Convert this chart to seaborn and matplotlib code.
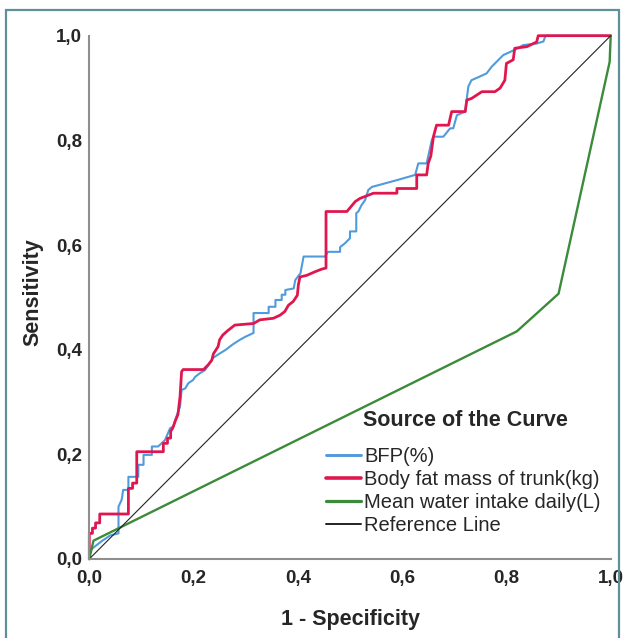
import matplotlib
matplotlib.use("Agg")
import matplotlib.pyplot as plt
from matplotlib.patches import Rectangle
import seaborn as sns
import pandas as pd

# ---- data ----
bfp_x = [0, 0, 0.012, 0.025, 0.040, 0.056, 0.056, 0.062, 0.065, 0.075, 0.075, 0.094, 0.094,
         0.104, 0.104, 0.120, 0.120, 0.132, 0.145, 0.155, 0.161, 0.168, 0.174, 0.177, 0.184,
         0.190, 0.199, 0.203, 0.212, 0.222, 0.230, 0.237, 0.249, 0.262, 0.275, 0.289, 0.300,
         0.315, 0.315, 0.344, 0.344, 0.357, 0.357, 0.369, 0.369, 0.376, 0.376, 0.392, 0.395,
         0.405, 0.411, 0.452, 0.458, 0.481, 0.481, 0.490, 0.500, 0.500, 0.512, 0.512, 0.516,
         0.522, 0.529, 0.535, 0.542, 0.590, 0.625, 0.631, 0.647, 0.657, 0.660, 0.679, 0.692,
         0.698, 0.705, 0.721, 0.724, 0.727, 0.733, 0.749, 0.762, 0.772, 0.788, 0.794, 0.816,
         0.832, 0.858, 0.871, 0.875, 1.0]
bfp_y = [0, 0.015, 0.025, 0.035, 0.045, 0.049, 0.100, 0.113, 0.132, 0.132, 0.157, 0.157, 0.180,
         0.180, 0.199, 0.199, 0.215, 0.215, 0.227, 0.250, 0.253, 0.275, 0.291, 0.323, 0.326,
         0.336, 0.342, 0.348, 0.355, 0.361, 0.373, 0.384, 0.392, 0.400, 0.410, 0.419, 0.425,
         0.432, 0.470, 0.470, 0.482, 0.482, 0.495, 0.495, 0.505, 0.505, 0.514, 0.517, 0.533,
         0.546, 0.578, 0.578, 0.587, 0.587, 0.596, 0.603, 0.613, 0.626, 0.626, 0.661, 0.664,
         0.676, 0.686, 0.705, 0.711, 0.724, 0.734, 0.756, 0.756, 0.801, 0.807, 0.807, 0.823,
         0.823, 0.848, 0.855, 0.880, 0.903, 0.915, 0.922, 0.928, 0.941, 0.957, 0.963, 0.973,
         0.982, 0.985, 0.989, 1.0, 1.0]

trunk_x = [0, 0, 0.006, 0.006, 0.012, 0.012, 0.020, 0.020, 0.075, 0.075, 0.083, 0.083, 0.091,
           0.091, 0.142, 0.142, 0.150, 0.150, 0.156, 0.156, 0.160, 0.165, 0.170, 0.174, 0.177,
           0.180, 0.219, 0.228, 0.235, 0.238, 0.247, 0.250, 0.256, 0.265, 0.279, 0.315, 0.327,
           0.353, 0.366, 0.375, 0.382, 0.391, 0.399, 0.401, 0.404, 0.417, 0.433, 0.446, 0.454,
           0.454, 0.494, 0.510, 0.519, 0.545, 0.590, 0.590, 0.628, 0.628, 0.647, 0.650, 0.655,
           0.660, 0.666, 0.689, 0.695, 0.721, 0.724, 0.733, 0.753, 0.778, 0.788, 0.797, 0.800,
           0.813, 0.816, 0.839, 0.858, 0.861, 1.0]
trunk_y = [0, 0.049, 0.049, 0.059, 0.059, 0.069, 0.069, 0.086, 0.086, 0.135, 0.135, 0.145, 0.145,
           0.205, 0.205, 0.221, 0.221, 0.231, 0.231, 0.244, 0.250, 0.264, 0.276, 0.310, 0.358,
           0.362, 0.362, 0.371, 0.380, 0.392, 0.406, 0.419, 0.428, 0.436, 0.447, 0.450, 0.457,
           0.460, 0.466, 0.473, 0.485, 0.492, 0.504, 0.524, 0.539, 0.542, 0.549, 0.554, 0.556,
           0.664, 0.664, 0.683, 0.689, 0.699, 0.699, 0.708, 0.708, 0.734, 0.734, 0.756, 0.770,
           0.807, 0.829, 0.829, 0.855, 0.855, 0.877, 0.880, 0.893, 0.893, 0.900, 0.915, 0.947,
           0.954, 0.976, 0.979, 0.988, 1.0, 1.0]

water_x = [0, 0.008, 0.82, 0.90, 0.998, 1.0]
water_y = [0, 0.035, 0.435, 0.507, 0.95, 1.0]

ref_x = [0, 1]
ref_y = [0, 1]

labels = ["BFP(%)", "Body fat mass of trunk(kg)", "Mean water intake daily(L)", "Reference Line"]
tick_vals = [0, 0.2, 0.4, 0.6, 0.8, 1.0]
tick_labels = ["0,0", "0,2", "0,4", "0,6", "0,8", "1,0"]

series = [
    (labels[0], bfp_x, bfp_y, "#4f9bdb", 1.5),
    (labels[1], trunk_x, trunk_y, "#e0174f", 2.0),
    (labels[2], water_x, water_y, "#3b8b3b", 1.7),
    (labels[3], ref_x, ref_y, "#222222", 0.8),
]

sns.set_style("white")
plt.rcParams["font.family"] = ["Liberation Sans", "DejaVu Sans"]

W, H = 624, 638
fig = plt.figure(figsize=(W / 100, H / 100), dpi=100)
ax = fig.add_axes([89.3 / W, 1 - 559 / H, (610.7 - 89.3) / W, (559 - 35.7) / H])

handles = []
for name, xs, ys, col, lw in series:
    df = pd.DataFrame({"x": xs, "y": ys})
    sns.lineplot(data=df, x="x", y="y", sort=False, estimator=None, ax=ax,
                 color=col, linewidth=lw, label=name)
    ln = ax.lines[-1]
    ln.set_clip_on(False)
    handles.append(ln)

ax.set_xlim(0, 1)
ax.set_ylim(0, 1)
ax.set_xticks(tick_vals)
ax.set_xticklabels(tick_labels)
ax.set_yticks(tick_vals)
ax.set_yticklabels(tick_labels)
for lab in ax.get_xticklabels() + ax.get_yticklabels():
    lab.set_fontweight("bold")
    lab.set_fontsize(13.5)
ax.tick_params(axis="x", length=0, pad=8)
ax.tick_params(axis="y", length=0, pad=5)

for s in ["top", "right"]:
    ax.spines[s].set_visible(False)
for s in ["left", "bottom"]:
    ax.spines[s].set_color("#8f8f8f")
    ax.spines[s].set_linewidth(1.5)

ax.set_xlabel("1 - Specificity", fontsize=15.5, fontweight="bold")
ax.set_ylabel("Sensitivity", fontsize=15.5, fontweight="bold")
ax.xaxis.set_label_coords(0.5, -(619.5 - 559) / 523.3)
ax.xaxis.label.set_va("center")
ax.yaxis.set_label_coords(-(89.3 - 33) / 521.4, (559 - 292) / 523.3)
ax.yaxis.label.set_va("center")

if ax.legend_:
    ax.legend_.remove()
leg = ax.legend(handles=handles, labels=labels, loc="upper left",
                bbox_to_anchor=(326 / W, 1 - 447 / H), bbox_transform=fig.transFigure,
                frameon=False, fontsize=14.5, handlelength=1.72, handletextpad=0.18,
                labelspacing=0.2, borderpad=0, borderaxespad=0)
for hl in leg.get_lines():
    hl.set_linewidth(hl.get_linewidth() + 0.6)
fig.text(363 / W, 1 - 420 / H, "Source of the Curve", fontsize=15.5, fontweight="bold",
         ha="left", va="center")

fig.add_artist(Rectangle((6 / W, -0.05), (619 - 6) / W, 1.05 - 10 / H,
                         transform=fig.transFigure, fill=False, edgecolor="#5f8f99",
                         linewidth=1.6, clip_on=False))

fig.savefig("out.png", dpi=100)
